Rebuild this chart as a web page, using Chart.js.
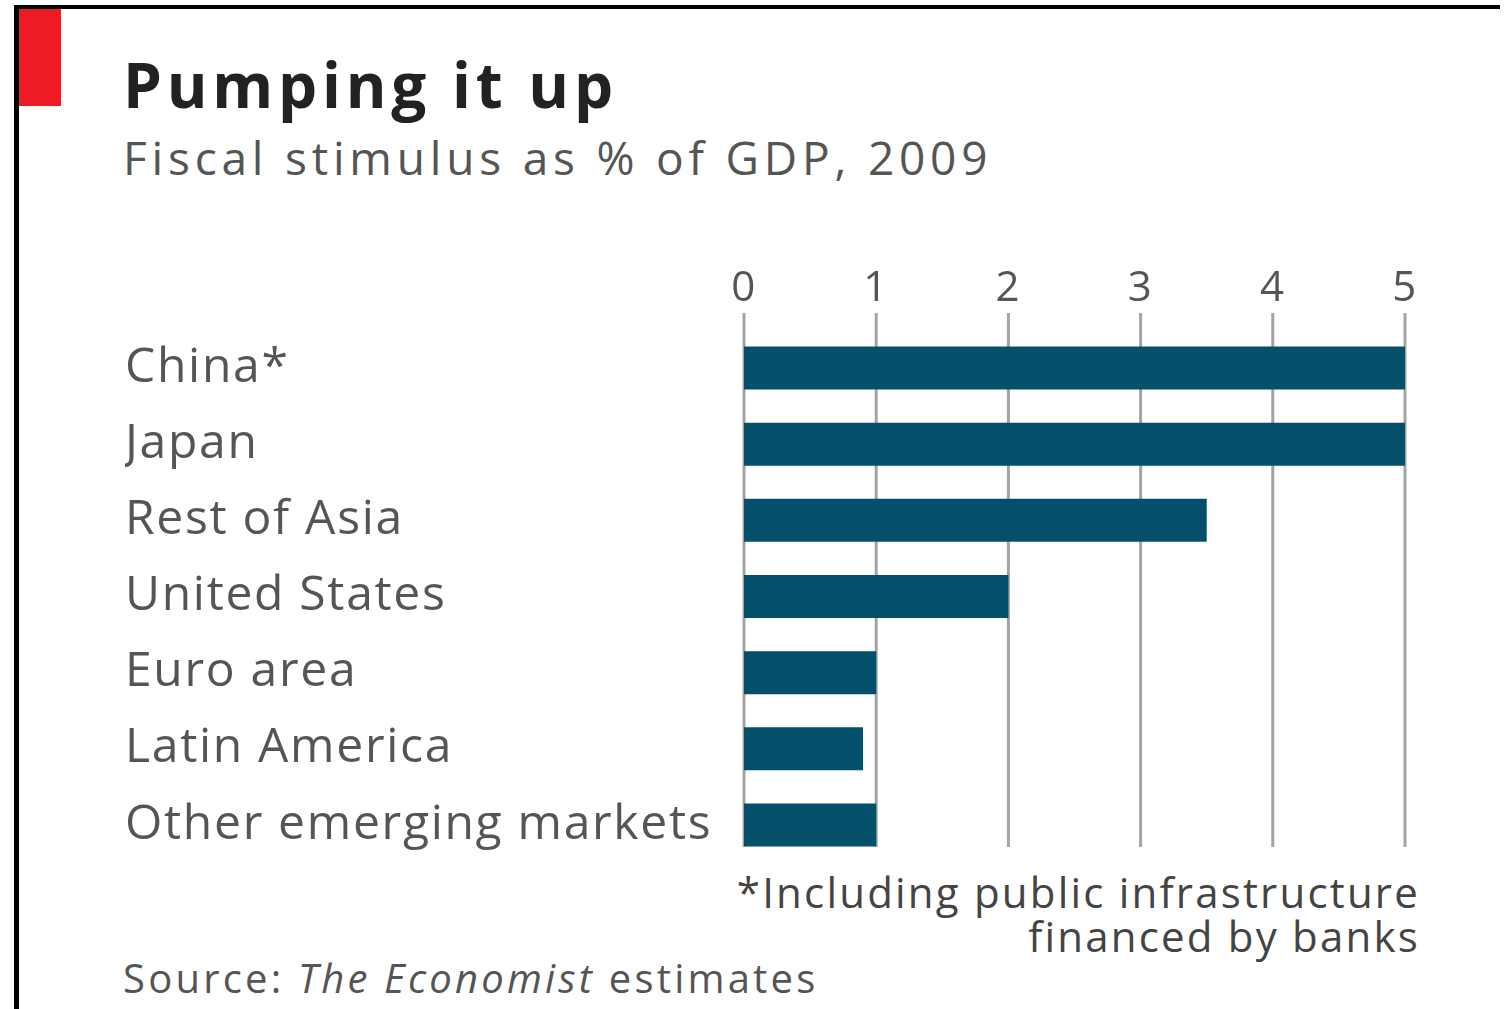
<!DOCTYPE html>
<html>
<head>
<meta charset="utf-8">
<script src="https://cdn.jsdelivr.net/npm/chart.js@4"></script>
<style>
  html, body { margin: 0; padding: 0; background: #fff; }
  #wrap { position: relative; width: 1506px; height: 1009px; overflow: hidden; font-family: "Open Sans", sans-serif; }
  #frame-top { position: absolute; left: 14px; top: 5px; width: 1486px; height: 4px; background: #000; }
  #frame-left { position: absolute; left: 14px; top: 5px; width: 5px; height: 1004px; background: #000; }
  #tag { position: absolute; left: 19px; top: 9px; width: 42px; height: 97px; background: #ed1c24; }
  .txt { position: absolute; white-space: nowrap; }
  #title { left: 123px; top: 42px; font-size: 62px; font-weight: 700; color: #222; letter-spacing: 4.8px; }
  #subtitle { left: 123px; top: 126px; font-size: 46px; color: #555; letter-spacing: 4.8px; }
  #note { right: 86px; top: 870px; font-size: 42px; color: #444; text-align: right; line-height: 44px; letter-spacing: 2.2px; }
  #source { left: 123px; top: 950px; font-size: 40px; color: #555; letter-spacing: 3.2px; }
  canvas { position: absolute; left: 0; top: 0; }
</style>
</head>
<body>
<div id="wrap">
  <div id="frame-top"></div>
  <div id="frame-left"></div>
  <div id="tag"></div>
  <div class="txt" id="title">Pumping it up</div>
  <div class="txt" id="subtitle">Fiscal stimulus as % of GDP, 2009</div>
  <div class="txt" id="note">*Including public infrastructure<br>financed by banks</div>
  <div class="txt" id="source">Source: <i>The Economist</i> estimates</div>
  <canvas id="chart" width="1506" height="1009"></canvas>
</div>
<script>
const regioes = ["China*", "Japan", "Rest of Asia", "United States", "Euro area", "Latin America", "Other emerging markets"];
const estimulo = [5.0, 5.0, 3.5, 2.0, 1.0, 0.9, 1.0];
const ticksX = [0, 1, 2, 3, 4, 5];

// linhas de grade verticais, um pouco acima da primeira barra
const gradePlugin = {
  id: "grade",
  beforeDraw(chart) {
    chart.ctx.letterSpacing = "1.7px";
  },
  beforeDatasetsDraw(chart) {
    const ctx = chart.ctx;
    const x = chart.scales.x;
    const area = chart.chartArea;
    ctx.save();
    ctx.strokeStyle = "#a3a3a6";
    ctx.lineWidth = 3;
    ticksX.forEach((t) => {
      const px = x.getPixelForValue(t);
      ctx.beginPath();
      ctx.moveTo(px, area.top - 17);
      ctx.lineTo(px, area.bottom - 16);
      ctx.stroke();
    });
    ctx.restore();
  },
};

const ctx = document.getElementById("chart").getContext("2d");
const grafico = new Chart(ctx, {
  type: "bar",
  data: {
    labels: regioes,
    datasets: [
      {
        data: estimulo,
        backgroundColor: "#04506b",
        barPercentage: 0.565,
        categoryPercentage: 1,
      },
    ],
  },
  options: {
    indexAxis: "y",
    responsive: false,
    animation: false,
    layout: { padding: { left: 125, right: 101, top: 262, bottom: 146 } },
    plugins: { legend: { display: false }, tooltip: { enabled: false } },
    scales: {
      x: {
        position: "top",
        min: 0,
        max: 5,
        afterFit: (s) => { s.height = 68; },
        afterBuildTicks: (s) => { s.ticks = ticksX.map((v) => ({ value: v })); },
        grid: { display: false },
        border: { display: false },
        ticks: { padding: 8, color: "#555", font: { family: "Open Sans", size: 42 } },
      },
      y: {
        afterFit: (s) => { s.width = 619; },
        grid: { display: false },
        border: { display: false },
        ticks: { crossAlign: "far", color: "#555", font: { family: "Open Sans", size: 48 } },
      },
    },
  },
  plugins: [gradePlugin],
});
</script>
</body>
</html>
